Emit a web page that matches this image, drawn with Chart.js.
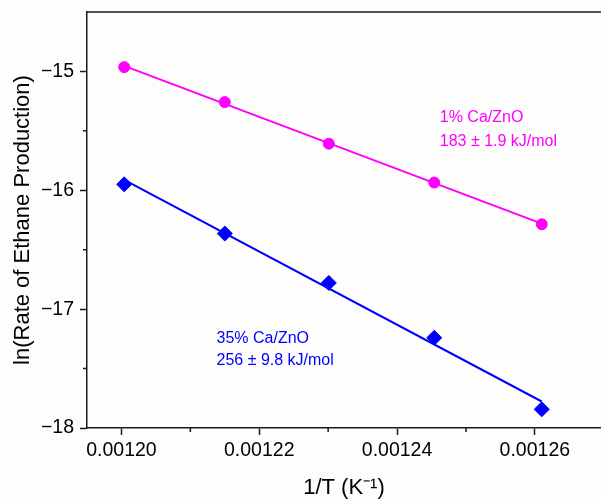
<!DOCTYPE html>
<html>
<head>
<meta charset="utf-8">
<script src="https://cdn.jsdelivr.net/npm/chart.js@4.4.1/dist/chart.umd.min.js"></script>
<style>
  html, body { margin: 0; padding: 0; background: #fdfdfc; overflow: hidden; }
  #wrap { width: 601px; height: 499px; position: relative; }
</style>
</head>
<body>
<div id="wrap"><canvas id="myChart"></canvas></div>
<script>
// 1/T (K^-1) for each run
const invT = [0.0012004, 0.0012150, 0.0012301, 0.0012454, 0.0012610];
// ln(rate) per catalyst
const lnRate1 = [-14.964, -15.258, -15.608, -15.935, -16.286];
const lnRate35 = [-15.950, -16.364, -16.779, -17.241, -17.843];
// linear fit end points (Arrhenius fits)
const fitX = [0.0012004, 0.0012610];
const fit1 = [-14.953, -16.281];
const fit35 = [-15.912, -17.777];

const xTicks = [0.00120, 0.00121, 0.00122, 0.00123, 0.00124, 0.00125, 0.00126];
const yTicks = [-18, -17.5, -17, -16.5, -16, -15.5, -15];

const label1 = ['1% Ca/ZnO', '183 \u00b1 1.9 kJ/mol'];
const label35 = ['35% Ca/ZnO', '256 \u00b1 9.8 kJ/mol'];

const FONT = 'Arial, "Liberation Sans", sans-serif';
const MAGENTA = '#ff00ff';
const BLUE = '#0000ff';
const AXIS = '#1a1a1a';

function pts(xs, ys) {
    return xs.map((x, i) => ({ x: x, y: ys[i] }));
}
function isMajorX(v) { return Math.round(v * 1e5) % 2 === 0; }
function isMajorY(v) { return Number.isInteger(v); }

// keep the plot box fixed: no extra room reserved for edge tick labels
function noEdgePadding(scale) {
    scale._handleMargins = function () {};
    scale._calculatePadding = function () {
        this.paddingLeft = 0;
        this.paddingRight = 0;
        this.paddingTop = 0;
        this.paddingBottom = 0;
    };
}

// top frame line, short minor ticks, annotation text
const extras = {
    id: 'extras',
    afterDraw(chart) {
        const ctx = chart.ctx;
        const a = chart.chartArea;
        const xs = chart.scales.x;
        const ys = chart.scales.y;
        ctx.save();
        ctx.strokeStyle = AXIS;
        ctx.lineWidth = 1.5;
        ctx.beginPath();
        ctx.moveTo(a.left - 0.75, a.top);
        ctx.lineTo(a.right + 2, a.top);
        xTicks.filter(v => !isMajorX(v)).forEach(v => {
            const px = xs.getPixelForValue(v);
            ctx.moveTo(px, a.bottom);
            ctx.lineTo(px, a.bottom + 4);
        });
        yTicks.filter(v => !isMajorY(v)).forEach(v => {
            const py = ys.getPixelForValue(v);
            ctx.moveTo(a.left, py);
            ctx.lineTo(a.left - 4, py);
        });
        ctx.stroke();

        ctx.font = '16px ' + FONT;
        ctx.textBaseline = 'middle';
        ctx.textAlign = 'left';
        ctx.fillStyle = MAGENTA;
        ctx.fillText(label1[0], xs.getPixelForValue(0.0012462), ys.getPixelForValue(-15.387));
        ctx.fillText(label1[1], xs.getPixelForValue(0.0012462), ys.getPixelForValue(-15.588));
        ctx.fillStyle = BLUE;
        ctx.fillText(label35[0], xs.getPixelForValue(0.0012138), ys.getPixelForValue(-17.244));
        ctx.fillText(label35[1], xs.getPixelForValue(0.0012138), ys.getPixelForValue(-17.437));
        ctx.restore();
    }
};

const ctx = document.getElementById('myChart').getContext('2d');
const myChart = new Chart(ctx, {
    type: 'scatter',
    data: {
        datasets: [{
            type: 'line',
            data: pts(fitX, fit1),
            borderColor: MAGENTA,
            borderWidth: 2,
            pointRadius: 0,
            fill: false
        }, {
            type: 'line',
            data: pts(fitX, fit35),
            borderColor: BLUE,
            borderWidth: 2,
            pointRadius: 0,
            fill: false
        }, {
            data: pts(invT, lnRate1),
            pointStyle: 'circle',
            pointRadius: 5.5,
            pointBackgroundColor: MAGENTA,
            pointBorderColor: MAGENTA,
            pointBorderWidth: 1
        }, {
            data: pts(invT, lnRate35),
            pointStyle: 'rectRot',
            pointRadius: 7.5,
            pointBackgroundColor: BLUE,
            pointBorderColor: BLUE,
            pointBorderWidth: 1
        }]
    },
    options: {
        responsive: true,
        maintainAspectRatio: false,
        animation: false,
        layout: { autoPadding: false, padding: { top: 12, right: 0, left: 0, bottom: 0 } },
        plugins: { legend: { display: false }, tooltip: { enabled: false } },
        scales: {
            x: {
                type: 'linear',
                min: 0.001195,
                max: 0.0012696,
                beforeFit: noEdgePadding,
                afterFit(scale) { scale.height = 71; },
                afterBuildTicks(scale) { scale.ticks = xTicks.map(v => ({ value: v })); },
                grid: {
                    drawOnChartArea: false,
                    tickLength: 7,
                    tickWidth: 1.5,
                    tickColor: c => (isMajorX(c.tick.value) ? AXIS : 'transparent')
                },
                border: { color: AXIS, width: 1.5 },
                ticks: {
                    color: '#000',
                    font: { family: FONT, size: 19.5 },
                    padding: 4,
                    maxRotation: 0,
                    autoSkip: false,
                    callback: v => (isMajorX(v) ? v.toFixed(5) : '')
                },
                title: {
                    display: true,
                    text: '1/T (K\u207b\u00b9)',
                    color: '#000',
                    font: { family: FONT, size: 22 },
                    padding: { top: 0, bottom: -2 }
                }
            },
            y: {
                type: 'linear',
                min: -18,
                max: -14.5,
                beforeFit: noEdgePadding,
                afterFit(scale) { scale.width = 87; },
                afterBuildTicks(scale) { scale.ticks = yTicks.map(v => ({ value: v })); },
                grid: {
                    drawOnChartArea: false,
                    tickLength: 7,
                    tickWidth: 1.5,
                    tickColor: c => (isMajorY(c.tick.value) ? AXIS : 'transparent')
                },
                border: { color: AXIS, width: 1.5 },
                ticks: {
                    color: '#000',
                    font: { family: FONT, size: 19.5 },
                    padding: 6,
                    autoSkip: false,
                    callback: v => (isMajorY(v) ? '\u2212' + Math.abs(v) : '')
                },
                title: {
                    display: true,
                    text: 'ln(Rate of Ethane Production)',
                    color: '#000',
                    font: { family: FONT, size: 22 },
                    padding: { top: 10, bottom: 0 }
                }
            }
        }
    },
    plugins: [extras]
});
</script>
</body>
</html>
